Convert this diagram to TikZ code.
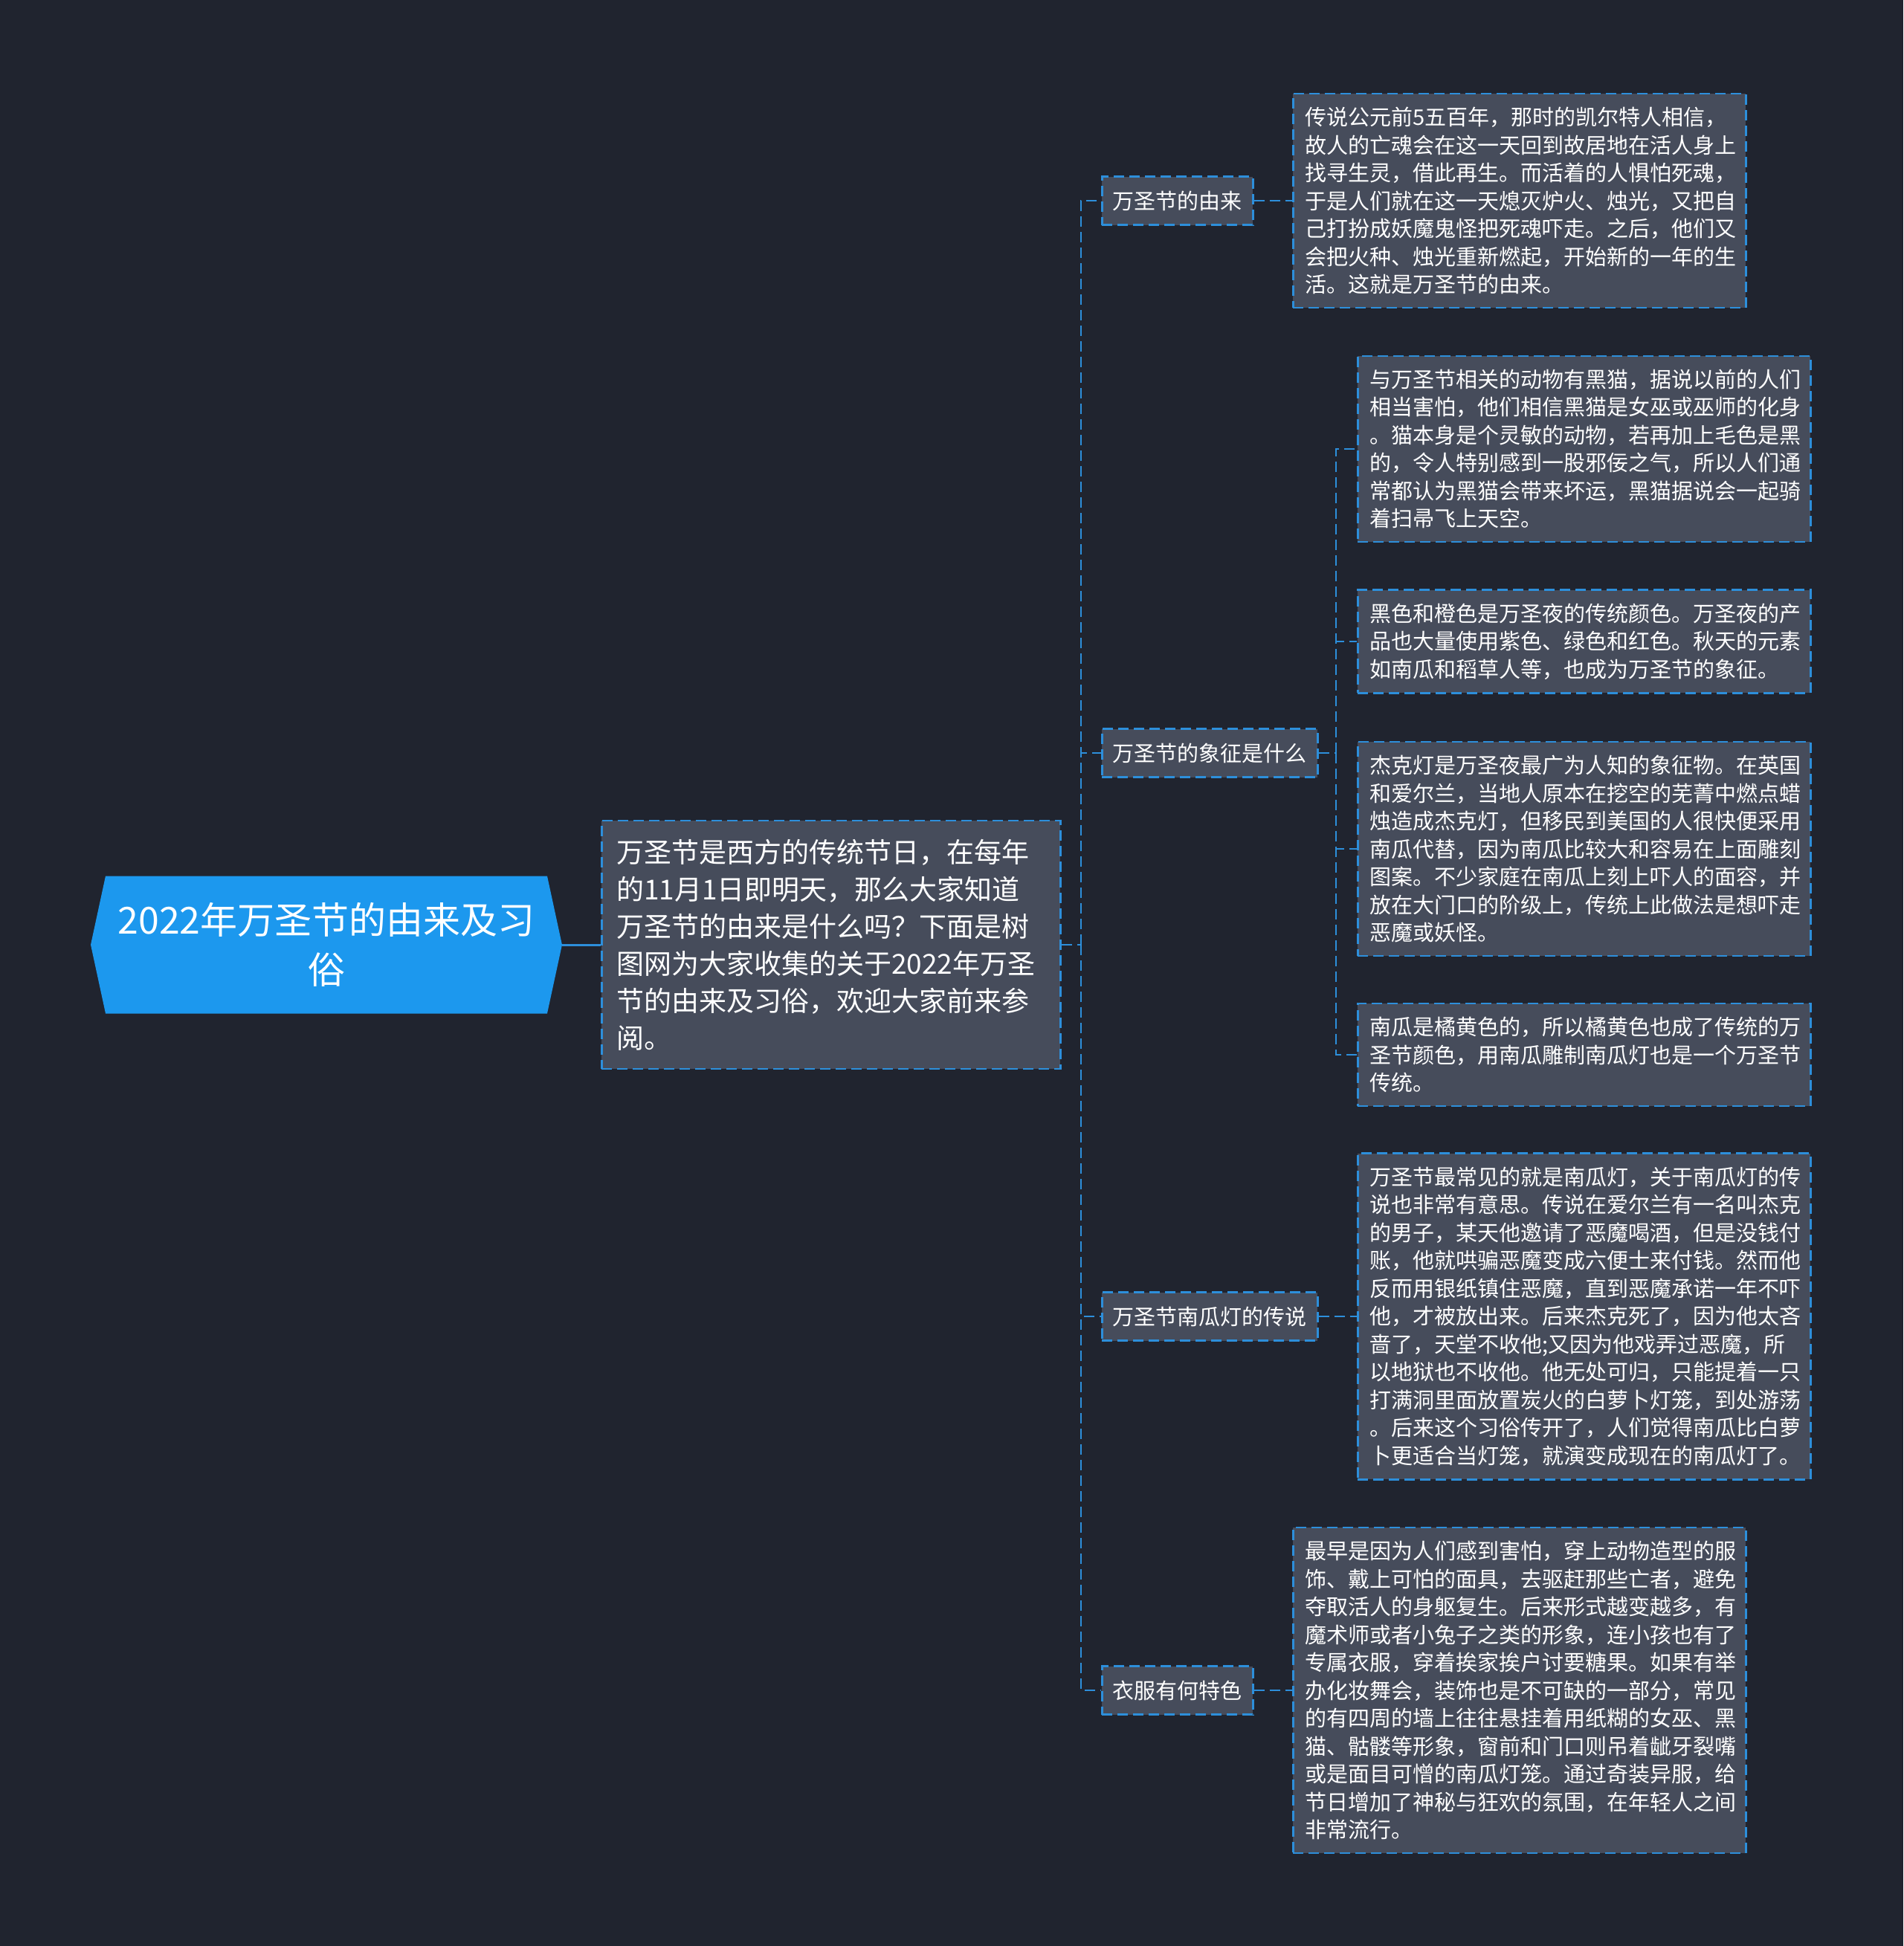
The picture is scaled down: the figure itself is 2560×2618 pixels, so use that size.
\documentclass[tikz,border=0pt]{standalone}
\usepackage{fontspec}
\setmainfont{Noto Sans CJK SC}
\usetikzlibrary{calc}
\definecolor{bgc}{HTML}{20242F}
\definecolor{boxc}{HTML}{464C5B}
\definecolor{linec}{HTML}{2D8FDB}
\definecolor{rootc}{HTML}{1C98EE}
\begin{document}
\begin{tikzpicture}[x=1pt,y=-1pt,
  box/.style={draw=linec, fill=boxc, line width=2.5pt, dash pattern=on 14pt off 7pt, text=white, anchor=west, align=left},
  leaf/.style={box, text width=577pt, inner xsep=16pt, inner ysep=18pt, font=\fontsize{29}{37.5}\selectfont},
  topic/.style={box, inner xsep=14.5pt, inner ysep=0pt, minimum height=65pt, font=\fontsize{29}{35}\selectfont},
  conn/.style={draw=linec, line width=2.5pt, dash pattern=on 14pt off 7pt},
  rootbox/.style={inner sep=0pt, minimum width=634pt, minimum height=185pt, text=white, align=center, fill=bgc,
    font=\fontsize{50}{67}\selectfont,
    path picture={\fill[rootc] (path picture bounding box.west) -- ($(path picture bounding box.north west)+(20,0)$) -- ($(path picture bounding box.north east)+(-20,0)$) -- (path picture bounding box.east) -- ($(path picture bounding box.south east)+(-20,0)$) -- ($(path picture bounding box.south west)+(20,0)$) -- cycle;}},
]
\fill[bgc] (0,0) rectangle (2560,2618);
\useasboundingbox (0,0) rectangle (2560,2618);

\node[rootbox] (root) at (439,1271) {2022年万圣节的由来及习\\俗};

\node[box, text width=577pt, inner xsep=20pt, inner ysep=25pt, font=\fontsize{37}{50}\selectfont] (intro) at (808,1271) {万圣节是西方的传统节日，在每年\\的11月1日即明天，那么大家知道\\万圣节的由来是什么吗？下面是树\\图网为大家收集的关于2022年万圣\\节的由来及习俗，欢迎大家前来参\\阅。};

\node[topic] (a1) at (1481,270) {万圣节的由来};
\node[topic] (a2) at (1481,1013) {万圣节的象征是什么};
\node[topic] (a3) at (1481,1771) {万圣节南瓜灯的传说};
\node[topic] (a4) at (1481,2274) {衣服有何特色};

\node[leaf] (l1) at (1738,270) {传说公元前5五百年，那时的凯尔特人相信，\\故人的亡魂会在这一天回到故居地在活人身上\\找寻生灵，借此再生。而活着的人惧怕死魂，\\于是人们就在这一天熄灭炉火、烛光，又把自\\己打扮成妖魔鬼怪把死魂吓走。之后，他们又\\会把火种、烛光重新燃起，开始新的一年的生\\活。这就是万圣节的由来。};

\node[leaf] (l2) at (1825,604) {与万圣节相关的动物有黑猫，据说以前的人们\\相当害怕，他们相信黑猫是女巫或巫师的化身\\。猫本身是个灵敏的动物，若再加上毛色是黑\\的，令人特别感到一股邪佞之气，所以人们通\\常都认为黑猫会带来坏运，黑猫据说会一起骑\\着扫帚飞上天空。};

\node[leaf] (l3) at (1825,863) {黑色和橙色是万圣夜的传统颜色。万圣夜的产\\品也大量使用紫色、绿色和红色。秋天的元素\\如南瓜和稻草人等，也成为万圣节的象征。};

\node[leaf] (l4) at (1825,1142) {杰克灯是万圣夜最广为人知的象征物。在英国\\和爱尔兰，当地人原本在挖空的芜菁中燃点蜡\\烛造成杰克灯，但移民到美国的人很快便采用\\南瓜代替，因为南瓜比较大和容易在上面雕刻\\图案。不少家庭在南瓜上刻上吓人的面容，并\\放在大门口的阶级上，传统上此做法是想吓走\\恶魔或妖怪。};

\node[leaf] (l5) at (1825,1419) {南瓜是橘黄色的，所以橘黄色也成了传统的万\\圣节颜色，用南瓜雕制南瓜灯也是一个万圣节\\传统。};

\node[leaf] (l6) at (1825,1771) {万圣节最常见的就是南瓜灯，关于南瓜灯的传\\说也非常有意思。传说在爱尔兰有一名叫杰克\\的男子，某天他邀请了恶魔喝酒，但是没钱付\\账，他就哄骗恶魔变成六便士来付钱。然而他\\反而用银纸镇住恶魔，直到恶魔承诺一年不吓\\他，才被放出来。后来杰克死了，因为他太吝\\啬了，天堂不收他;又因为他戏弄过恶魔，所\\以地狱也不收他。他无处可归，只能提着一只\\打满洞里面放置炭火的白萝卜灯笼，到处游荡\\。后来这个习俗传开了，人们觉得南瓜比白萝\\卜更适合当灯笼，就演变成现在的南瓜灯了。};

\node[leaf] (l7) at (1738,2274) {最早是因为人们感到害怕，穿上动物造型的服\\饰、戴上可怕的面具，去驱赶那些亡者，避免\\夺取活人的身躯复生。后来形式越变越多，有\\魔术师或者小兔子之类的形象，连小孩也有了\\专属衣服，穿着挨家挨户讨要糖果。如果有举\\办化妆舞会，装饰也是不可缺的一部分，常见\\的有四周的墙上往往悬挂着用纸糊的女巫、黑\\猫、骷髅等形象，窗前和门口则吊着龇牙裂嘴\\或是面目可憎的南瓜灯笼。通过奇装异服，给\\节日增加了神秘与狂欢的氛围，在年轻人之间\\非常流行。};

% connectors
\draw[linec, line width=3pt] (root.east) -- (intro.west);
\coordinate (t1) at (1454,1271);
\draw[conn] (intro.east) -- (t1);
\draw[conn] (t1) |- (a1.west);
\draw[conn] (t1) |- (a2.west);
\draw[conn] (t1) |- (a3.west);
\draw[conn] (t1) |- (a4.west);
\draw[conn] (a1.east) -- (l1.west);
\draw[conn] (a3.east) -- (l6.west);
\draw[conn] (a4.east) -- (l7.west);
\coordinate (t2) at (1797,1013);
\draw[conn] (a2.east) -- (t2);
\draw[conn] (t2) |- (l2.west);
\draw[conn] (t2) |- (l3.west);
\draw[conn] (t2) |- (l4.west);
\draw[conn] (t2) |- (l5.west);
\end{tikzpicture}
\end{document}
